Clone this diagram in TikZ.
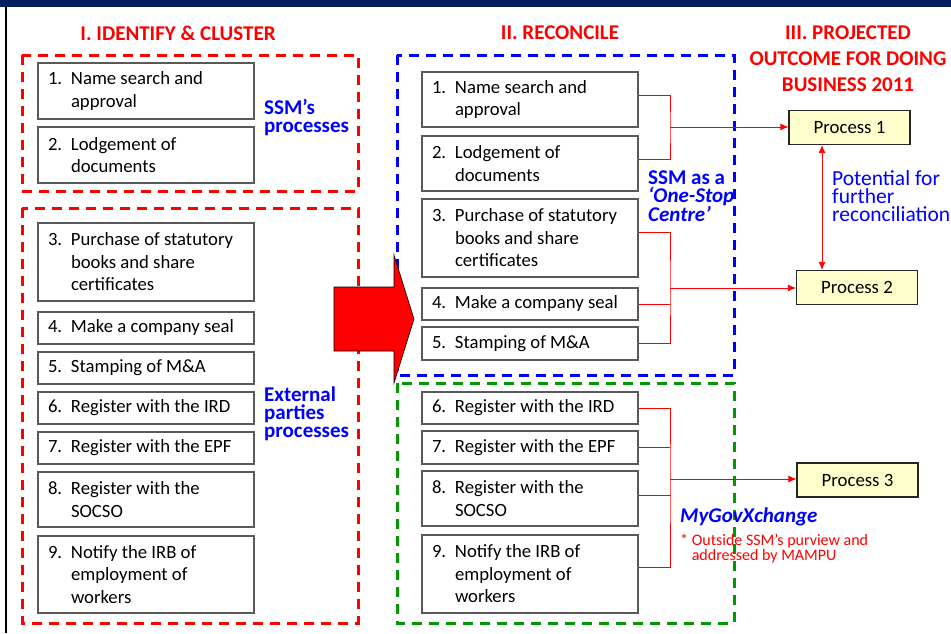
\documentclass[tikz,border=0pt]{standalone}
\usepackage{fontspec}
\setmainfont{Carlito}
\usetikzlibrary{arrows.meta,calc}
\tikzset{>={Latex[length=8pt,width=7pt]}}
\definecolor{titlenavy}{RGB}{0,32,96}
\definecolor{paleyellow}{RGB}{255,255,204}
\definecolor{okgreen}{RGB}{0,153,0}
\tikzstyle{stepbox}=[rectangle,draw=black!65,line width=1.1pt,minimum width=216pt,inner sep=0pt,font=\fontsize{18.7}{22.5}\selectfont]
\tikzstyle{processbox}=[rectangle,draw=black!85,fill=paleyellow,line width=1.2pt,minimum width=121pt,minimum height=34pt,font=\fontsize{18.8}{20}\selectfont]
\tikzstyle{cluster}=[line width=3pt,dash pattern=on 10pt off 7pt]
\tikzstyle{link}=[red,line width=0.8pt]
\tikzstyle{heading}=[red,font=\fontsize{21}{26}\selectfont\bfseries,align=center]
\tikzstyle{tag}=[blue,font=\fontsize{21}{18}\selectfont\bfseries,align=left,anchor=west,inner sep=0pt]
\newcommand{\steptext}[2]{\makebox[23pt][l]{#1}\parbox[t]{173pt}{#2}}

\begin{document}
\begin{tikzpicture}[x=1pt,y=-1pt,inner sep=1mm]
	\fill[white] (0,0) rectangle (951,633);
	\useasboundingbox (0,0) rectangle (951,633);
	\fill[titlenavy] (0,0) rectangle (951,7);
	\draw[black,line width=2pt] (6,7) -- (6,633);
	
	\node[heading] (head1) at (178,33) {I. IDENTIFY \& CLUSTER};
	\node[heading] (head2) at (560,33) {II. RECONCILE};
	\node[heading] (head3) at (848,59) {III. PROJECTED\\OUTCOME FOR DOING\\BUSINESS 2011};
	
	\draw[cluster,red] (22,55) rectangle (358,191);
	\draw[cluster,red] (22,208) rectangle (358,623);
	\draw[cluster,blue] (397,55) rectangle (734,375);
	\draw[cluster,okgreen] (397,383) rectangle (734,623);
	
	\node[stepbox,minimum height=56pt] (left1) at (146,91) {\steptext{1.}{Name search and\\approval}};
	\node[stepbox,minimum height=56pt] (left2) at (146,155) {\steptext{2.}{Lodgement of\\documents}};
	\node[stepbox,minimum height=78pt] (left3) at (146,262) {\steptext{3.}{Purchase of statutory\\books and share\\certificates}};
	\node[stepbox,minimum height=32pt] (left4) at (146,328) {\steptext{4.}{Make a company seal}};
	\node[stepbox,minimum height=32pt] (left5) at (146,368) {\steptext{5.}{Stamping of M\&A}};
	\node[stepbox,minimum height=32pt] (left6) at (146,408) {\steptext{6.}{Register with the IRD}};
	\node[stepbox,minimum height=32pt] (left7) at (146,448) {\steptext{7.}{Register with the EPF}};
	\node[stepbox,minimum height=55pt] (left8) at (146,499.5) {\steptext{8.}{Register with the\\SOCSO}};
	\node[stepbox,minimum height=77pt] (left9) at (146,574.5) {\steptext{9.}{Notify the IRB of\\employment of\\workers}};
	
	\node[stepbox,minimum height=55pt] (mid1) at (530,99.5) {\steptext{1.}{Name search and\\approval}};
	\node[stepbox,minimum height=55pt] (mid2) at (530,163.5) {\steptext{2.}{Lodgement of\\documents}};
	\node[stepbox,minimum height=78pt] (mid3) at (530,238) {\steptext{3.}{Purchase of statutory\\books and share\\certificates}};
	\node[stepbox,minimum height=32pt] (mid4) at (530,304) {\steptext{4.}{Make a company seal}};
	\node[stepbox,minimum height=33pt] (mid5) at (530,343.5) {\steptext{5.}{Stamping of M\&A}};
	\node[stepbox,minimum height=32pt] (mid6) at (530,408) {\steptext{6.}{Register with the IRD}};
	\node[stepbox,minimum height=33pt] (mid7) at (530,447.5) {\steptext{7.}{Register with the EPF}};
	\node[stepbox,minimum height=55pt] (mid8) at (530,498.5) {\steptext{8.}{Register with the\\SOCSO}};
	\node[stepbox,minimum height=78pt] (mid9) at (530,574) {\steptext{9.}{Notify the IRB of\\employment of\\workers}};
	
	\node[tag] (ssmtag) at (264,118) {SSM’s\\processes};
	\node[tag] (externaltag) at (264,414) {External\\parties\\processes};
	\node[tag] (onestoptag) at (648,196) {SSM as a\\\textit{‘One-Stop}\\\textit{Centre’}};
	\node[tag,font=\fontsize{21.5}{18}\selectfont] (potentialtag) at (832,196.5) {Potential for\\further\\reconciliation};
	\node[tag,anchor=base west,font=\fontsize{21}{21}\selectfont\bfseries\itshape] (mygovtag) at (680,522) {MyGovXchange};
	\node[tag,red,font=\fontsize{16}{13}\selectfont] (mampunote) at (680,548.5) {* Outside SSM’s purview and\\\phantom{* }addressed by MAMPU};
	
	\node[processbox] (process1) at (849.5,127.5) {Process 1};
	\node[processbox] (process2) at (857,287.5) {Process 2};
	\node[processbox] (process3) at (857.5,480) {Process 3};
	
	\coordinate (join1) at (670,127);
	\coordinate (join2) at (670,288);
	\coordinate (join3) at (670,479);
	\draw[link] ([yshift=4.5pt]mid1.east) -| (join1) |- ([yshift=4.5pt]mid2.east);
	\draw[link] ([yshift=6pt]mid3.east) -| (join2) |- (mid5.east);
	\draw[link] (mid4.east) -- (mid4.east -| join2);
	\draw[link] (mid6.east) -| (join3) |- ([yshift=7pt]mid9.east);
	\draw[link] (mid7.east) -- (mid7.east -| join3);
	\draw[link] ([yshift=3.5pt]mid8.east) -- ++(32,0);
	\draw[link,->] (join1) -- (join1 -| process1.west);
	\draw[link,->] (join2) -- (join2 -| process2.west);
	\draw[link,->] (join3) -- (join3 -| process3.west);
	\coordinate (p1foot) at ([xshift=-27.5pt]process1.south);
	\draw[link,<->] (p1foot) -- (p1foot |- process2.north);
	
	\draw[black,line width=0.6pt,fill=red] (334,287) -- (394,287) -- (394,255) -- (414,319) -- (394,383) -- (394,351) -- (334,351) -- cycle;
\end{tikzpicture}
\end{document}
